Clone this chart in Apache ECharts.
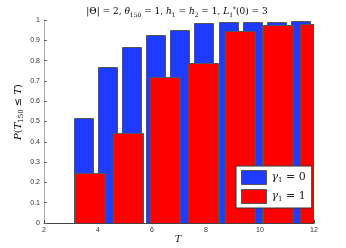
<!DOCTYPE html>
<html><head><meta charset="utf-8">
<script src="https://cdn.jsdelivr.net/npm/echarts@6/dist/echarts.min.js"></script>
<style>html,body{margin:0;padding:0;background:#fff}#c{width:346px;height:248px}</style>
</head><body><div id="c"></div>
<script>
// data
const blueT = [3.48, 4.37, 5.26, 6.15, 7.04, 7.93, 8.83, 9.72, 10.62, 11.51];
const blueP = [0.516, 0.770, 0.866, 0.925, 0.951, 0.984, 0.992, 0.992, 0.989, 0.995];
const redT = [3.70, 5.10, 6.48, 7.87, 9.26, 10.66, 12.05];
const redP = [0.248, 0.442, 0.721, 0.790, 0.946, 0.975, 0.980];
const seriesNames = ['γ1 = 0', 'γ1 = 1'];
const xTicks = [2, 4, 6, 8, 10, 12];

const BLUE_W = 0.72, RED_W = 1.11;
const serif = '"DejaVu Serif", "Liberation Serif", serif';
const sans = '"Liberation Sans", Arial, sans-serif';

function barRender(w) {
  return function (params, api) {
    const x = api.value(0), y = api.value(1);
    const p0 = api.coord([x - w / 2, y]);
    const p1 = api.coord([x + w / 2, 0]);
    return {
      type: 'rect',
      shape: { x: Math.round(p0[0]) + 0.5, y: Math.round(p0[1]) + 0.5, width: Math.round(p1[0] - p0[0]), height: Math.round(p1[1] - p0[1]) },
      style: api.style()
    };
  };
}

const chart = echarts.init(document.getElementById('c'), null, { renderer: 'canvas' });
const subRich = {
  n: { fontFamily: serif, fontSize: 9, color: '#222', lineHeight: 12 },
  i: { fontFamily: serif, fontStyle: 'italic', fontSize: 9, color: '#222', lineHeight: 12 },
  s: { fontFamily: serif, fontSize: 6, color: '#222', lineHeight: 12, verticalAlign: 'bottom', padding: [4, 0, 0, 0] },
  p: { fontFamily: serif, fontSize: 6, color: '#222', lineHeight: 12, verticalAlign: 'top' }
};
chart.setOption({
  animation: false,
  backgroundColor: '#fff',
  grid: { left: 44, right: 32, top: 20, bottom: 25, containLabel: false },
  xAxis: {
    type: 'value', min: 2, max: 12, interval: 2,
    axisLine: { show: true, onZero: false, lineStyle: { color: '#444', width: 1 } },
    axisTick: { show: true, inside: true, length: 3, lineStyle: { color: '#444' } },
    axisLabel: { fontFamily: sans, fontSize: 7, color: '#333', margin: 4,
      customValues: xTicks },
    splitLine: { show: false }
  },
  yAxis: {
    type: 'value', min: 0, max: 1, interval: 0.1,
    axisLine: { show: true, lineStyle: { color: '#aaa', width: 1 } },
    axisTick: { show: true, inside: true, length: 3, lineStyle: { color: '#666' } },
    axisLabel: { fontFamily: sans, fontSize: 7, color: '#333', margin: 4,
      formatter: v => String(Math.round(v * 10) / 10) },
    splitLine: { show: false }
  },
  legend: {
    left: 236, top: 166, orient: 'vertical',
    padding: [4, 6, 4, 5], itemGap: 4,
    itemWidth: 25, itemHeight: 14,
    backgroundColor: '#fff', borderColor: '#333', borderWidth: 1, borderRadius: 0,
    data: [
      { name: seriesNames[0], icon: 'rect', itemStyle: { color: '#1e3cff', borderColor: '#555', borderWidth: 1 } },
      { name: seriesNames[1], icon: 'rect', itemStyle: { color: '#ff0000', borderColor: '#555', borderWidth: 1 } }
    ],
    formatter: name => '{g|γ}{s|1}{n| = ' + name.slice(-1) + '}',
    textStyle: {
      rich: {
        g: { fontFamily: serif, fontStyle: 'italic', fontSize: 11, color: '#222' },
        s: { fontFamily: serif, fontSize: 7, color: '#222', verticalAlign: 'bottom', padding: [5, 0, 0, 0] },
        n: { fontFamily: serif, fontSize: 11, color: '#222' }
      }
    }
  },
  series: [
    {
      name: seriesNames[0], type: 'custom', clip: true,
      renderItem: barRender(BLUE_W),
      itemStyle: { color: '#1e3cff', borderColor: '#555', borderWidth: 1 },
      encode: { x: 0, y: 1 },
      data: blueT.map((t, i) => [t, blueP[i]])
    },
    {
      name: seriesNames[1], type: 'custom', clip: true,
      renderItem: barRender(RED_W),
      itemStyle: { color: '#ff0000', borderColor: '#555', borderWidth: 1 },
      encode: { x: 0, y: 1 },
      data: redT.map((t, i) => [t, redP[i]])
    }
  ],
  graphic: [
    {
      type: 'text', x: 177, y: 12, z: 10,
      style: {
        text: '{n|\u007CΘ\u007C = 2, }{i|θ}{s|150}{n| = 1, }{i|h}{s|1}{n| = }{i|h}{s|2}{n| = 1, }{i|L}{s|1}{p|*}{n|(0) = 3}',
        align: 'center', verticalAlign: 'middle', rich: subRich
      }
    },
    {
      type: 'text', x: 18, y: 112, rotation: Math.PI / 2, z: 10,
      style: {
        text: '{i|P}{n|(}{i|T}{s|150}{n| ≤ }{i|T}{n|)}',
        align: 'center', verticalAlign: 'middle',
        rich: {
          n: { fontFamily: serif, fontSize: 10, color: '#222', lineHeight: 13 },
          i: { fontFamily: serif, fontStyle: 'italic', fontSize: 10, color: '#222', lineHeight: 13 },
          s: { fontFamily: serif, fontSize: 7, color: '#222', lineHeight: 13, verticalAlign: 'bottom', padding: [4, 0, 0, 0] }
        }
      }
    },
    {
      type: 'text', x: 178, y: 239, z: 10,
      style: { text: 'T', fontFamily: serif, fontStyle: 'italic', fontSize: 10, fill: '#222', align: 'center', verticalAlign: 'middle' }
    }
  ]
});
</script></body></html>
